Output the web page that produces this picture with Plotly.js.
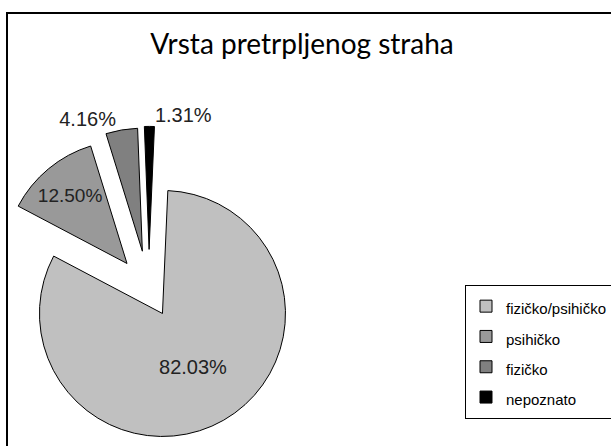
<!DOCTYPE html>
<html>
<head>
<meta charset="utf-8">
<script src="https://cdn.plot.ly/plotly-3.0.1.min.js"></script>
<style>
html, body { margin: 0; padding: 0; overflow: hidden; background: #fff; }
/* the chart is larger than the window and cropped, like the reference */
#chart { position: absolute; left: -40px; top: 0; width: 700px; height: 500px; }
</style>
</head>
<body>
<div id="chart"></div>
<script>
var categories = ['fizičko/psihičko', 'psihičko', 'fizičko', 'nepoznato'];
var shares = [82.03, 12.50, 4.16, 1.31];
var sliceColors = ['#c0c0c0', '#999999', '#808080', '#000000'];
var explode = [0.22, 0.28, 0.32, 0.33];
var labelPlaces = ['inside', 'inside', 'outside', 'outside'];

// legend font stays big for the row spacing, the text itself is smaller
var legendNames = categories.map(function (c) {
  return '<span style="font-size:15px">' + c + '</span>';
});

var trace = {
  type: 'pie',
  labels: legendNames,
  values: shares,
  sort: false,
  direction: 'clockwise',
  rotation: 2.5,
  pull: explode,
  marker: { colors: sliceColors, line: { color: '#000', width: 1 } },
  texttemplate: '%{percent:.2%}',
  textposition: labelPlaces,
  insidetextorientation: 'horizontal',
  textfont: { family: 'Liberation Sans, Arial, sans-serif', size: 20, color: '#222' },
  hoverinfo: 'label+percent',
  domain: { x: [25.4 / 700, 352.6 / 700], y: [1 - 453.6 / 500, 1 - 126.4 / 500] }
};

var layout = {
  width: 700,
  height: 500,
  margin: { l: 0, r: 0, t: 0, b: 0 },
  paper_bgcolor: '#fff',
  title: {
    text: 'Vrsta pretrpljenog straha',
    font: { family: 'Lato, sans-serif', size: 28, color: '#000' },
    xref: 'container', x: 342 / 700, xanchor: 'center',
    yref: 'container', y: 1 - 44 / 500, yanchor: 'middle'
  },
  showlegend: true,
  legend: {
    x: 505 / 700, xanchor: 'left',
    y: 1 - 285 / 500, yanchor: 'top',
    bgcolor: '#fff',
    bordercolor: '#000',
    borderwidth: 1,
    font: { family: 'Liberation Sans, Arial, sans-serif', size: 21, color: '#000' }
  },
  shapes: [{
    type: 'rect', xref: 'paper', yref: 'paper',
    x0: 47 / 700, x1: 1.2, y0: -0.2, y1: 1 - 13 / 500,
    line: { color: '#000', width: 2 }
  }]
};

Plotly.newPlot('chart', [trace], layout, { displayModeBar: false, staticPlot: true });
</script>
</body>
</html>
